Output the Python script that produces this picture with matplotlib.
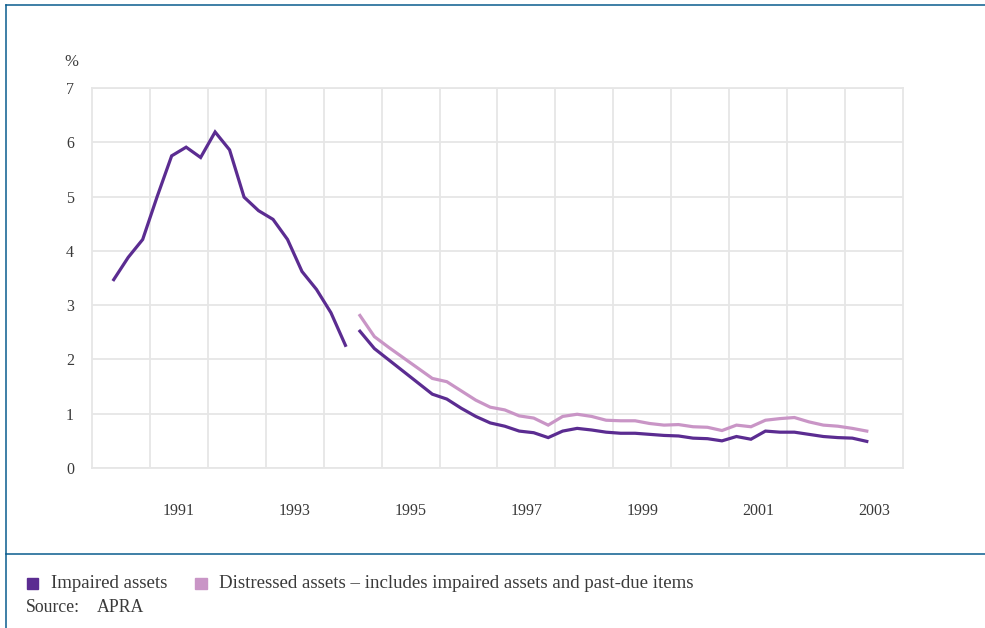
import numpy as np
import matplotlib
matplotlib.use("Agg")
import matplotlib.pyplot as plt
from matplotlib.patches import Rectangle
from matplotlib.lines import Line2D

plt.rcParams['font.family'] = ['Liberation Serif', 'DejaVu Serif']

# quarterly data, first series (old definition) Jun 1990 - Jun 1994
impaired_old = [3.47, 3.88, 4.21, 5.00, 5.75, 5.91, 5.72, 6.19, 5.86,
                4.99, 4.74, 4.58, 4.21, 3.62, 3.29, 2.86, 2.26]
# new series Sep 1994 - Jun 2003
impaired_new = [2.52, 2.20, 1.99, 1.78, 1.57, 1.36, 1.27, 1.10, 0.95,
                0.83, 0.77, 0.68, 0.65, 0.56, 0.68, 0.73, 0.70, 0.66,
                0.64, 0.64, 0.62, 0.60, 0.59, 0.55, 0.54, 0.50, 0.58,
                0.53, 0.68, 0.66, 0.66, 0.62, 0.58, 0.56, 0.55, 0.49]
distressed = [2.81, 2.42, 2.22, 2.03, 1.84, 1.65, 1.59, 1.42, 1.25,
              1.12, 1.07, 0.96, 0.92, 0.79, 0.95, 0.99, 0.95, 0.88,
              0.87, 0.87, 0.82, 0.79, 0.80, 0.76, 0.75, 0.69, 0.79,
              0.76, 0.88, 0.91, 0.93, 0.85, 0.79, 0.77, 0.73, 0.68]
year_labels = ["1991", "1993", "1995", "1997", "1999", "2001", "2003"]

dark = "#5b2c91"
light = "#c995c6"
grid_c = "#e6e6e6"
text_c = "#3a3a3a"
frame_c = "#0a5c8e"

# quarter positions (mid of quarter slot)
x_old = 1990.375 + 0.25 * np.arange(len(impaired_old))
x_new = x_old[-1] + 0.25 + 0.25 * np.arange(len(impaired_new))

fig = plt.figure(figsize=(9.85, 6.28), dpi=100)
ax = fig.add_axes([92 / 985, 1 - 468 / 628, 811 / 985, 380 / 628])

ax.plot(x_old, impaired_old, color=dark, lw=2.3, solid_joinstyle="miter")
ax.plot(x_new, impaired_new, color=dark, lw=2.3, solid_joinstyle="miter")
ax.plot(x_new, distressed, color=light, lw=2.3, solid_joinstyle="miter")

ax.set_xlim(1990, 2004)
ax.set_ylim(0, 7)
ax.set_yticks(range(0, 8))
ax.set_xticks(np.arange(1991, 2004))
ax.set_xticklabels([])
ax.set_xticks(np.arange(1991.5, 2004, 2), minor=True)
ax.set_xticklabels(year_labels, minor=True)
ax.grid(True, color=grid_c, lw=1.3)
ax.set_axisbelow(True)
ax.tick_params(which="both", length=0, colors=text_c, labelsize=11.5)
ax.tick_params(axis="y", pad=13)
ax.tick_params(axis="x", which="minor", pad=25)
for s in ax.spines.values():
    s.set_color(grid_c)
    s.set_linewidth(1.3)

fig.text(71 / 985, 1 - 62 / 628, "%", ha="center", va="center",
         fontsize=12, color=text_c)

# frame lines
fig.add_artist(Line2D([5.5 / 985, 5.5 / 985], [0, 1 - 4.5 / 628],
                      color=frame_c, lw=1.1))
fig.add_artist(Line2D([5.5 / 985, 1], [1 - 4.5 / 628, 1 - 4.5 / 628],
                      color=frame_c, lw=1.1))
fig.add_artist(Line2D([5.5 / 985, 1], [1 - 554 / 628, 1 - 554 / 628],
                      color=frame_c, lw=1.1))

# legend
fig.add_artist(Rectangle((27 / 985, 1 - 589 / 628), 11 / 985, 11 / 628,
                         color=dark, transform=fig.transFigure))
fig.text(51 / 985, 1 - 583 / 628, "Impaired assets", ha="left",
         va="center", fontsize=13.6, color=text_c)
fig.add_artist(Rectangle((195 / 985, 1 - 589 / 628), 12 / 985, 11 / 628,
                         color=light, transform=fig.transFigure))
fig.text(219 / 985, 1 - 583 / 628,
         "Distressed assets \u2013 includes impaired assets and past-due items",
         ha="left", va="center", fontsize=13.6, color=text_c)
fig.text(26 / 985, 1 - 607 / 628, "Source:", ha="left", va="center",
         fontsize=12.8, color=text_c)
fig.text(97 / 985, 1 - 607 / 628, "APRA", ha="left", va="center",
         fontsize=12.8, color=text_c)

fig.savefig("out.png", dpi=100)
